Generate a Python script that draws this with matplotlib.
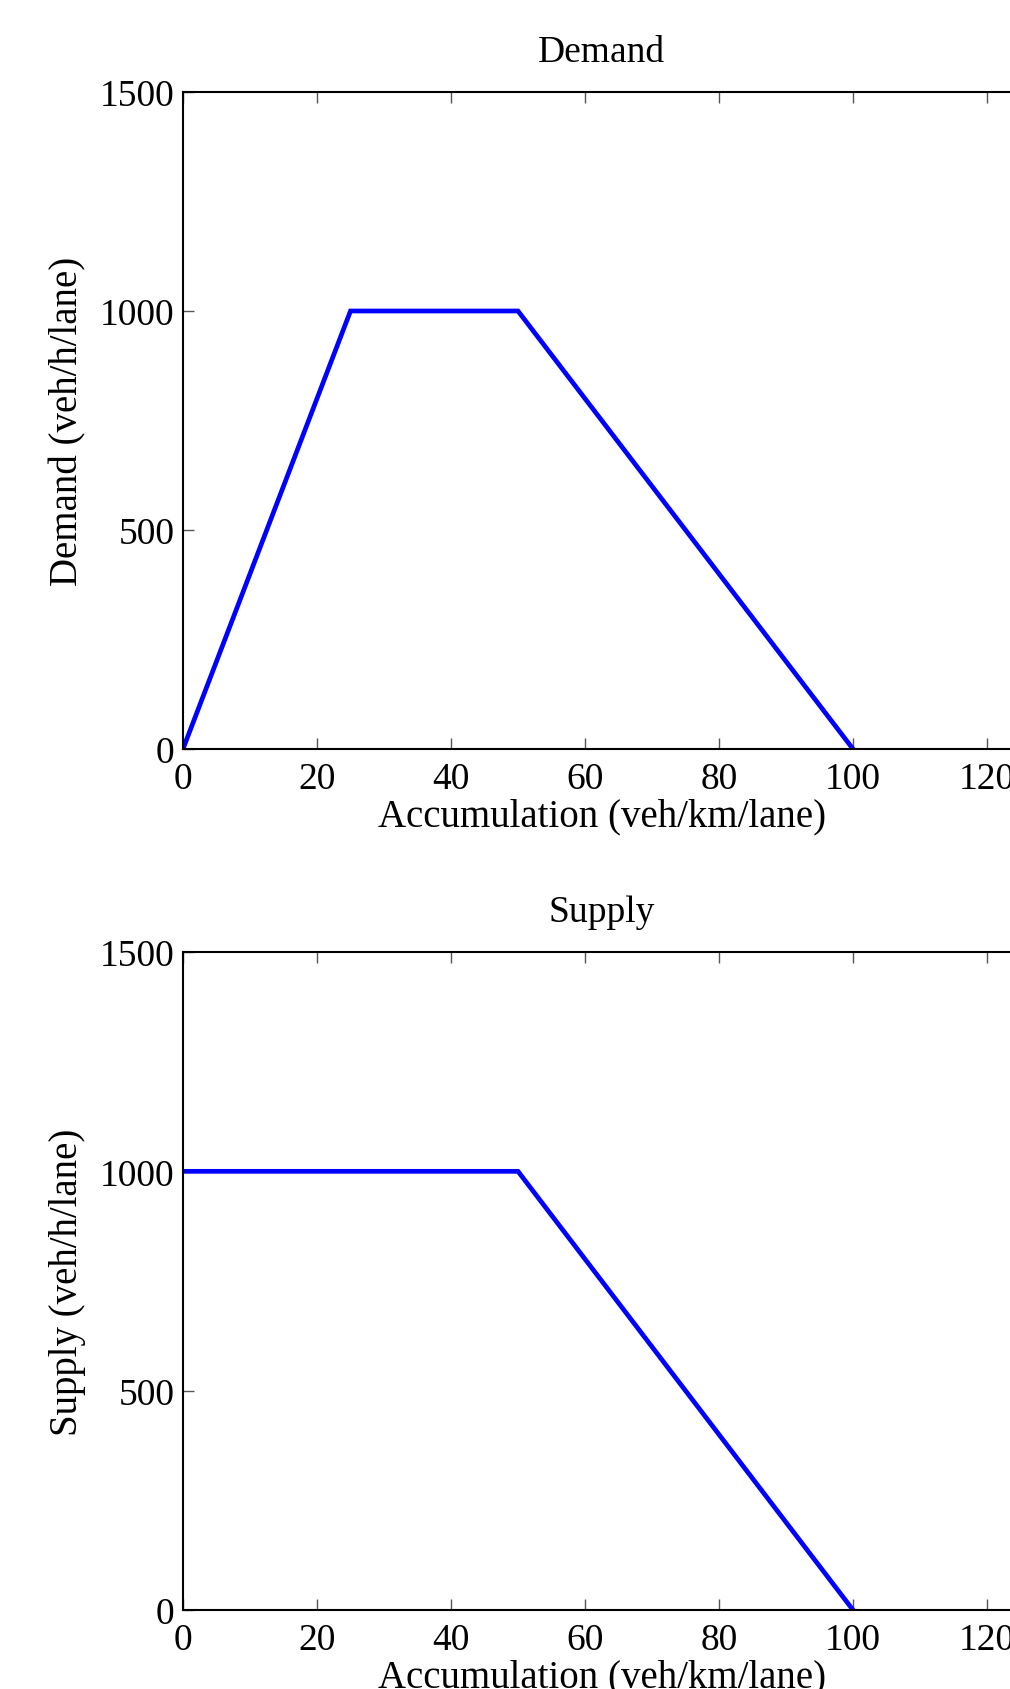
"""Demand and supply curves of the accumulation model."""
import matplotlib
matplotlib.use("Agg")
from matplotlib import pyplot as plt

accumulation_demand = [0, 25, 50, 100]
demand = [0, 1000, 1000, 0]
accumulation_supply = [0, 50, 100]
supply = [1000, 1000, 0]

x_ticks = [0, 20, 40, 60, 80, 100, 120]
y_ticks = [0, 500, 1000, 1500]

plt.rcParams['font.family'] = ['Liberation Serif', 'DejaVu Serif']
plt.rcParams['font.size'] = 27
plt.rcParams['mathtext.default'] = 'regular'

W, H = 1010, 1690
fig = plt.figure(figsize=(W / 100, H / 100), dpi=100)

# axes run slightly past the right edge of the page (x range 0..125)
px_per_unit = 670 / 100
left = 183
x_max = 125
width = x_max * px_per_unit


def panel(top: int, bottom: int, x: list, y: list, title: str, y_label: str) -> None:
    """Draw one panel between the given pixel rows."""
    ax = fig.add_axes([left / W, 1 - bottom / H, width / W, (bottom - top) / H])
    ax.plot(x, y, color='#0000ff', linewidth=3.4, solid_joinstyle='miter')
    ax.set_xlim(0, x_max)
    ax.set_ylim(0, 1500)
    ax.set_xticks(x_ticks)
    ax.set_yticks(y_ticks)
    ax.tick_params(direction='in', length=8, width=1.0, color='#555555',
                   top=True, right=True)
    ax.tick_params(axis='x', pad=9)
    ax.tick_params(axis='y', pad=6)
    for s in ax.spines.values():
        s.set_linewidth(1.5)
    ax.set_title(title, fontsize=27, pad=22)
    ax.set_xlabel('Accumulation (veh/km/lane)', fontsize=28, labelpad=1)
    ax.set_ylabel(y_label, fontsize=28, labelpad=10)


panel(93, 750, accumulation_demand, demand, 'Demand', 'Demand (veh/h/lane)')
panel(953, 1611, accumulation_supply, supply, 'Supply', 'Supply (veh/h/lane)')

fig.savefig('out.png', dpi=100)
